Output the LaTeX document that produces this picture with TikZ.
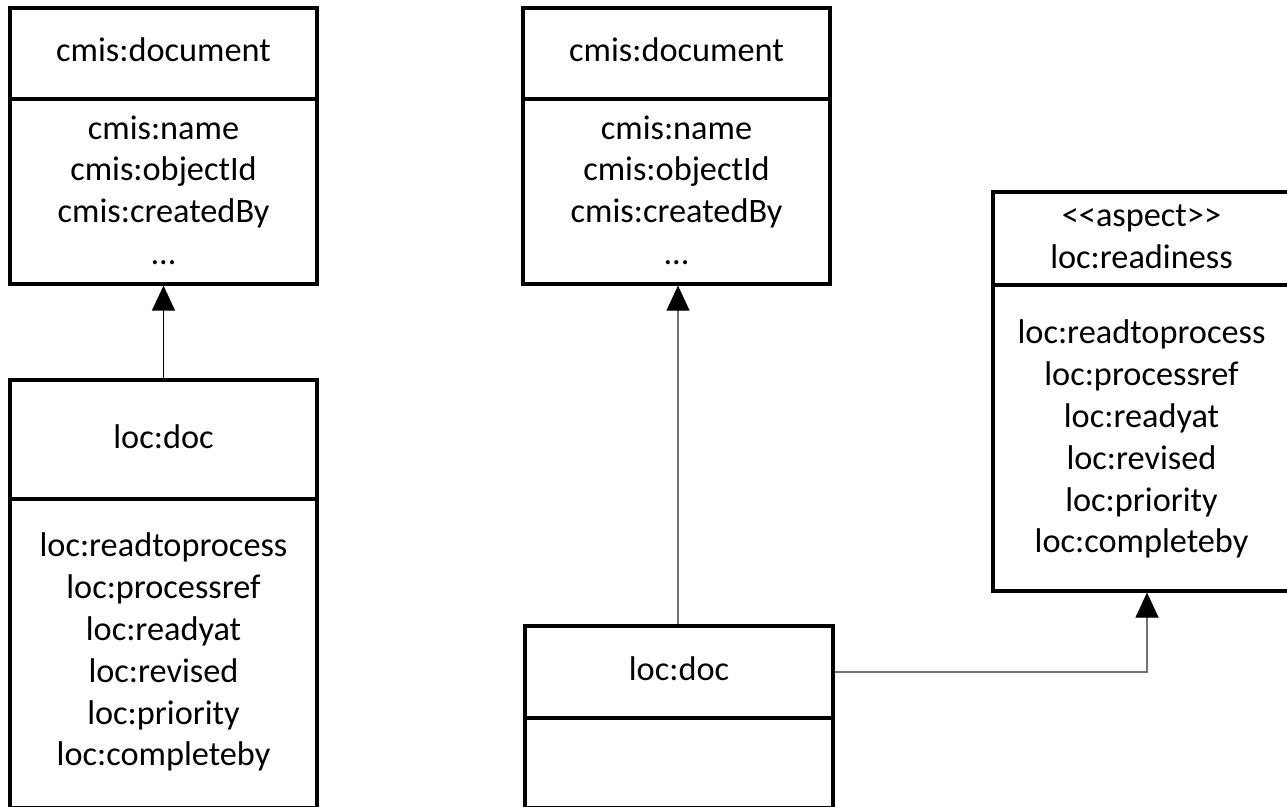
\documentclass[tikz,border=0pt]{standalone}
\usepackage{fontspec}
\setmainfont{Carlito}
\usetikzlibrary{arrows.meta}

\tikzset{
  classbox/.style={draw=black, line width=3.2pt, inner sep=0pt, fill=none},
  divider/.style={draw=black, line width=3.2pt},
  label/.style={inner sep=0pt, align=center, text=black,
    font=\fontsize{34.3}{41.8}\selectfont},
  inherit/.style={-{Triangle[width=23pt,length=25pt,color=black]}, draw=black, line width=1.4pt},
  inheritthin/.style={-{Triangle[width=23pt,length=25pt,color=black]}, draw=black!55, line width=1.1pt},
}

\begin{document}
\begin{tikzpicture}[x=1pt,y=-1pt]
\useasboundingbox (0,0) rectangle (1287,806);

% left column: cmis:document over loc:doc
\node[classbox, minimum width=307pt, minimum height=276pt] (cmisL) at (163.5,146) {};
\draw[divider] (10,99) -- (317,99);
\node[label] (cmisLt) at (163.5,53) {\strut cmis:document};
\node[label] (cmisLb) at (163.5,193.5) {\strut cmis:name\\\strut cmis:objectId\\\strut cmis:createdBy\\\strut ...};

\node[classbox, minimum width=307pt, minimum height=428pt] (docL) at (163.5,594) {};
\draw[divider] (10,499) -- (317,499);
\node[label] (docLt) at (163.5,440) {\strut loc:doc};
\node[label] (docLb) at (163.5,653) {\strut loc:readtoprocess\\\strut loc:processref\\\strut loc:readyat\\\strut loc:revised\\\strut loc:priority\\\strut loc:completeby};

\draw[inherit] (docL.north) -- (cmisL.south);

% middle column: cmis:document over loc:doc
\node[classbox, minimum width=307pt, minimum height=276pt] (cmisM) at (676.5,146) {};
\draw[divider] (523,99) -- (830,99);
\node[label] (cmisMt) at (676.5,53) {\strut cmis:document};
\node[label] (cmisMb) at (676.5,193.5) {\strut cmis:name\\\strut cmis:objectId\\\strut cmis:createdBy\\\strut ...};

\node[classbox, minimum width=308pt, minimum height=182pt] (docM) at (679,717) {};
\draw[divider] (525,718) -- (833,718);
\node[label] (docMt) at (679,672) {\strut loc:doc};

% right column: the aspect
\node[classbox, minimum width=297pt, minimum height=399pt] (asp) at (1141.5,391.5) {};
\draw[divider] (993,285) -- (1290,285);
\node[label] (aspt) at (1141.5,239) {\strut <{}<aspect>{}>\\\strut loc:readiness};
\node[label] (aspb) at (1141.5,440) {\strut loc:readtoprocess\\\strut loc:processref\\\strut loc:readyat\\\strut loc:revised\\\strut loc:priority\\\strut loc:completeby};

% connectors
\draw[inheritthin] ([xshift=-1pt]docM.north) -- ([xshift=-1pt]docM.north |- cmisM.south);
\coordinate (bend) at ([xshift=5.5pt]asp.south |- docMt);
\draw[inheritthin] (docM.east |- docMt) -- (bend) -- ([xshift=5.5pt]asp.south);
\end{tikzpicture}
\end{document}
